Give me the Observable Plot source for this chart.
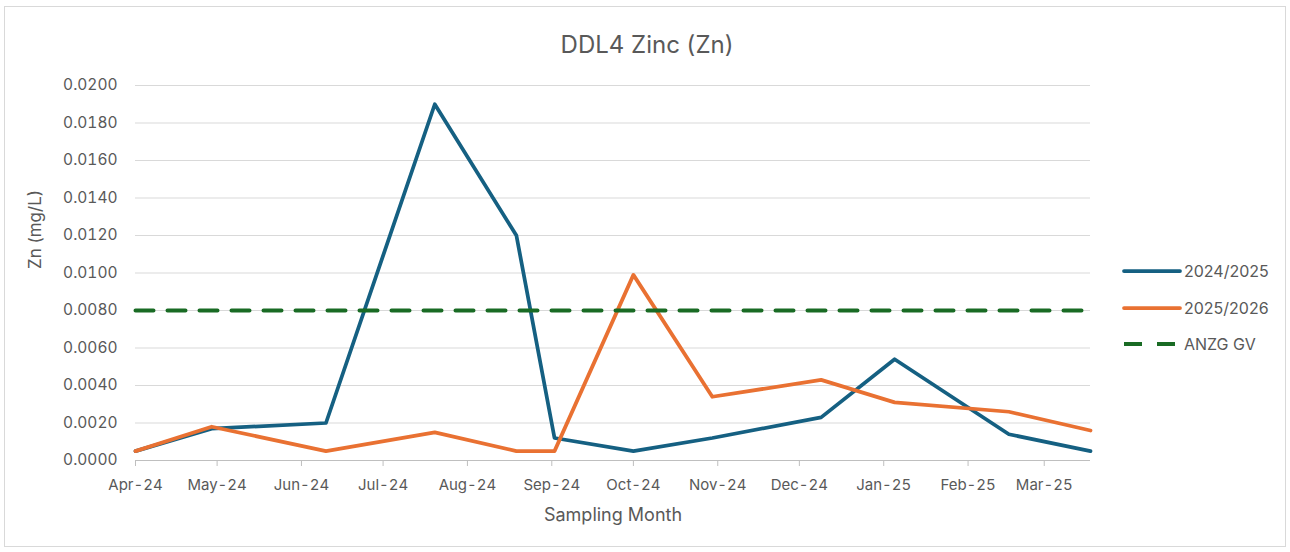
<!DOCTYPE html>
<html>
<head>
<meta charset="utf-8">
<script src="https://cdn.jsdelivr.net/npm/d3@7"></script>
<script src="https://cdn.jsdelivr.net/npm/@observablehq/plot@0.6"></script>
<style>
  html, body { margin: 0; padding: 0; background: #ffffff; }
  #wrap { position: relative; width: 1290px; height: 552px; overflow: hidden; font-family: Inter, "Open Sans", sans-serif; color: #595959; }
  #frame { position: absolute; left: 4px; top: 6px; width: 1282px; height: 541px; border: 1px solid #d9d9d9; box-sizing: border-box; pointer-events: none; }
  #chart { position: absolute; left: 0; top: 0; }
  #legend { position: absolute; left: 1122px; top: 253px; }
  .row { display: flex; align-items: center; height: 36.5px; font-size: 16px; }
  .row svg { margin-right: 2px; }
</style>
</head>
<body>
<div id="wrap">
  <div id="frame"></div>
  <div id="chart"></div>
  <div id="legend"></div>
</div>
<script>
// ---- data ----
const sampleDates = ["2024-04-01","2024-04-29","2024-06-10","2024-07-20","2024-08-19","2024-09-02","2024-10-01","2024-10-30","2024-12-09","2025-01-05","2025-02-16","2025-03-18"];
const zn2024 = [0.0005,0.0017,0.0020,0.0190,0.0120,0.0012,0.0005,0.0012,0.0023,0.0054,0.0014,0.0005];
const zn2025 = [0.0005,0.0018,0.0005,0.0015,0.0005,0.0005,0.0099,0.0034,0.0043,0.0031,0.0026,0.0016];
const anzgGV = [0.008,0.008,0.008,0.008,0.008,0.008,0.008,0.008,0.008,0.008,0.008,0.008];
const seriesNames = ["2024/2025","2025/2026","ANZG GV"];
const seriesColors = ["#156082","#E97132","#196B24"];
const yTicks = [0,0.002,0.004,0.006,0.008,0.010,0.012,0.014,0.016,0.018,0.020];
const title = "DDL4 Zinc (Zn)";
const xTitle = "Sampling Month";
const yTitle = "Zn (mg/L)";

const parse = d3.utcParse("%Y-%m-%d");
const dates = sampleDates.map(parse);
const mk = (vals, name) => vals.map((v, i) => ({date: dates[i], value: v, series: name}));
const d1 = mk(zn2024, seriesNames[0]);
const d2 = mk(zn2025, seriesNames[1]);
const d3s = mk(anzgGV, seriesNames[2]);
const xDomain = [dates[0], dates[dates.length - 1]];
const monthTicks = d3.utcMonth.range(dates[0], d3.utcDay.offset(dates[dates.length - 1], 1));

const textColor = "#595959";
const font = "Inter, 'Open Sans', sans-serif";

const chart = Plot.plot({
  width: 1290,
  height: 552,
  marginLeft: 135,
  marginRight: 200,
  marginTop: 85,
  marginBottom: 92,
  style: {fontFamily: font, fontSize: "15px", color: textColor, background: "transparent"},
  x: {type: "utc", domain: xDomain},
  y: {domain: [0, 0.02]},
  marks: [
    Plot.ruleY(yTicks.slice(1), {stroke: "#d9d9d9", strokeWidth: 1}),
    Plot.ruleY([0], {stroke: "#bfbfbf", strokeWidth: 1}),
    Plot.axisX({ticks: monthTicks, tickFormat: d3.utcFormat("%b-%y"), tickSize: 6, tickPadding: 13, stroke: "#bfbfbf", fill: textColor, label: null, fontSize: 15}),
    Plot.axisY({ticks: yTicks, tickFormat: d3.format(".4f"), tickSize: 0, tickPadding: 18, fill: textColor, label: null, fontSize: 15.5}),
    Plot.line(d1, {x: "date", y: "value", stroke: seriesColors[0], strokeWidth: 3.75, strokeLinejoin: "round", strokeLinecap: "round"}),
    Plot.line(d2, {x: "date", y: "value", stroke: seriesColors[1], strokeWidth: 3.75, strokeLinejoin: "round", strokeLinecap: "round"}),
    Plot.line(d3s, {x: "date", y: "value", stroke: seriesColors[2], strokeWidth: 4, strokeDasharray: "18,14"}),
    Plot.text([title], {frameAnchor: "top", dx: 34, dy: -50, fontSize: 24, fill: textColor}),
    Plot.text([xTitle], {frameAnchor: "bottom", dy: 60, fontSize: 18, fill: textColor}),
    Plot.text([yTitle], {frameAnchor: "left", dx: -100, dy: -4, rotate: -90, fontSize: 17, fill: textColor})
  ]
});
document.getElementById("chart").appendChild(chart);

// ---- legend ----
const legend = document.getElementById("legend");
seriesNames.forEach((name, i) => {
  const row = document.createElement("div");
  row.className = "row";
  const dash = i === 2 ? ' stroke-dasharray="18,15"' : '';
  const cap = i === 2 ? 'butt' : 'round';
  row.innerHTML = `<svg width="60" height="10"><line x1="2" y1="5" x2="58" y2="5" stroke="${seriesColors[i]}" stroke-width="${i === 2 ? 4 : 3.75}" stroke-linecap="${cap}"${dash}/></svg><span>${name}</span>`;
  legend.appendChild(row);
});
</script>
</body>
</html>
